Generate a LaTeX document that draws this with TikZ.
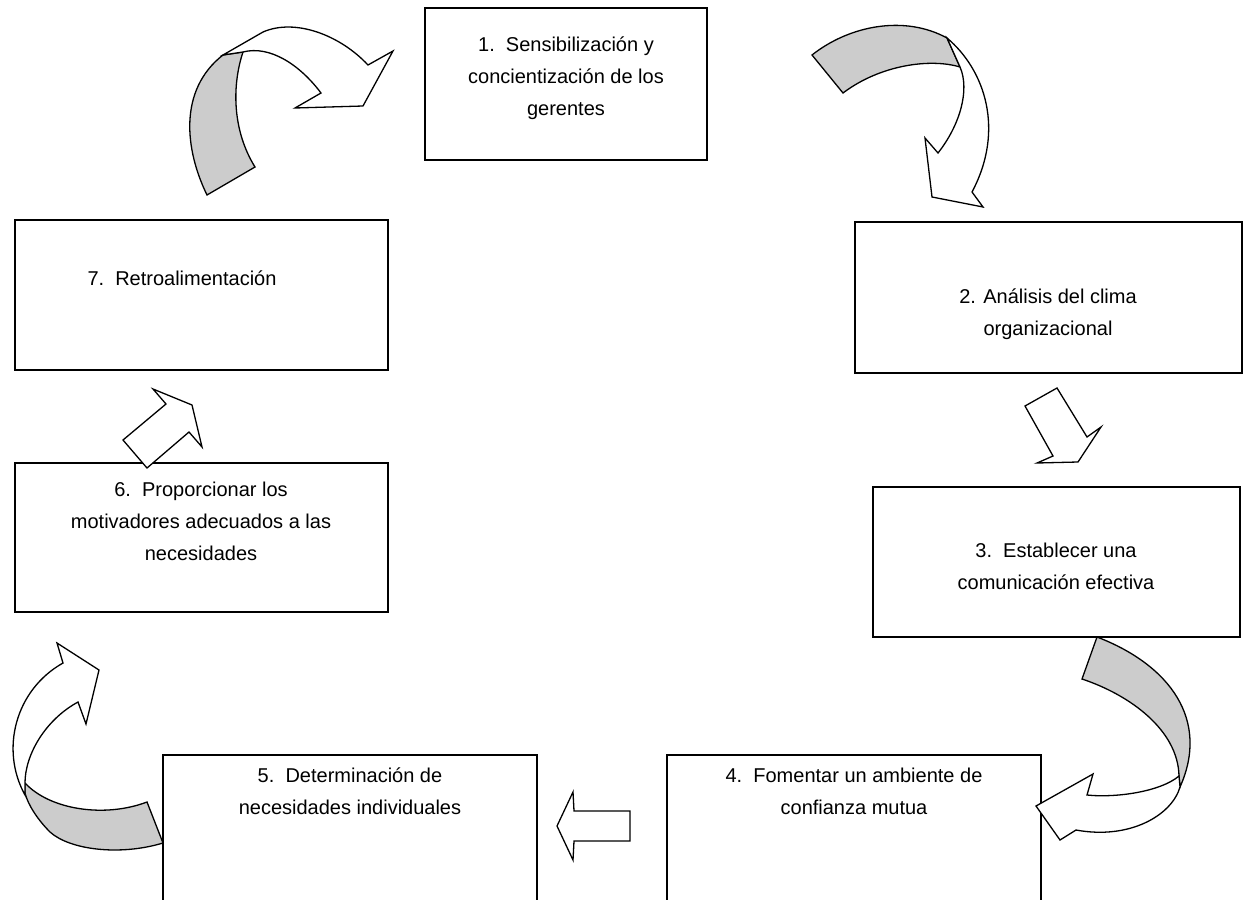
\documentclass[tikz,border=0pt]{standalone}
\usepackage{fontspec}
\setmainfont{Liberation Sans}
\definecolor{band}{RGB}{204,204,204}
\begin{document}
\begin{tikzpicture}[x=1pt,y=-1pt,
  box/.style={draw, line width=1.4pt, inner sep=0pt},
  lbl/.style={inner sep=0pt, align=center, font=\fontsize{20}{32}\selectfont, anchor=north},
  shp/.style={draw, line width=1.3pt, line join=miter}]
\useasboundingbox (0,0) rectangle (1249,899);
\clip (0,0) rectangle (1249,899);

% process boxes
\node[box, minimum width=282pt, minimum height=152pt] (b1) at (566,84) {};
\node[box, minimum width=387pt, minimum height=151pt] (b2) at (1048.5,297.5) {};
\node[box, minimum width=367pt, minimum height=150pt] (b3) at (1056.5,562) {};
\node[box, minimum width=374pt, minimum height=160pt] (b4) at (854,835) {};
\node[box, minimum width=374pt, minimum height=160pt] (b5) at (350,835) {};
\node[box, minimum width=373pt, minimum height=149pt] (b6) at (201.5,537.5) {};
\node[box, minimum width=373pt, minimum height=150pt] (b7) at (201.5,295) {};

% box labels
\node[lbl] (t1) at (566,36) {\rule{0pt}{15pt}1.~~Sensibilización y\\concientización de los\\gerentes};
\node[lbl] (t2) at (1048,288) {\rule{0pt}{15pt}2. Análisis del clima\\organizacional};
\node[lbl] (t3) at (1056,542) {\rule{0pt}{15pt}3.~~Establecer una\\comunicación efectiva};
\node[lbl] (t4) at (854,767) {\rule{0pt}{15pt}4.~~Fomentar un ambiente de\\confianza mutua};
\node[lbl] (t5) at (350,767) {\rule{0pt}{15pt}5.~~Determinación de\\necesidades individuales};
\node[lbl] (t6) at (201,481) {\rule{0pt}{15pt}6.~~Proporcionar los\\motivadores adecuados a las\\necesidades};
\node[lbl] (t7) at (182,270) {\rule{0pt}{15pt}7.~~Retroalimentación};

% curved arrow 7 -> 1
\draw[shp, fill=band] (207,195) .. controls (185,150) and (178,90) .. (223,55) -- (243,52)
  .. controls (232,85) and (232,130) .. (255,167) -- cycle;
\draw[shp, fill=white] (223,55) -- (263,32) .. controls (295,18) and (340,35) .. (368,65)
  -- (393,51) -- (363,106) -- (295,108) -- (321,93)
  .. controls (300,65) and (270,45) .. (243,52) -- cycle;

% curved arrow 1 -> 2
\draw[shp, fill=band] (812,55) -- (843,93) .. controls (880,65) and (930,58) .. (960,67)
  -- (947,38) .. controls (905,15) and (850,25) .. (812,55) -- cycle;
\draw[shp, fill=white] (947,38) .. controls (985,70) and (1005,130) .. (972,192)
  -- (983,207) -- (932,197) -- (925,138) -- (938,153)
  .. controls (960,125) and (970,90) .. (960,67) -- cycle;

% straight arrow 2 -> 3
\draw[shp, fill=white] (1025,406) -- (1057,388) -- (1087,437) -- (1101,427)
  -- (1078,462) -- (1037,463) -- (1053,456) -- cycle;

% curved arrow 3 -> 4
\draw[shp, fill=band] (1097,637) .. controls (1170,665) and (1210,720) .. (1180,787)
  -- (1179,776) .. controls (1178,730) and (1130,695) .. (1082,679) -- cycle;
\draw[shp, fill=white] (1179,776) .. controls (1160,792) and (1115,798) .. (1087,795)
  -- (1093,774) -- (1036,806) -- (1060,840) -- (1076,830)
  .. controls (1130,840) and (1172,815) .. (1180,787) -- cycle;

% straight arrow 4 -> 5
\draw[shp, fill=white] (630,811) -- (574,811) -- (573,792) -- (557,826)
  -- (573,860) -- (574,841) -- (630,841) -- cycle;

% curved arrow 5 -> 6
\draw[shp, fill=band] (25,783) .. controls (50,810) and (105,818) .. (147,802) -- (163,843)
  .. controls (120,856) and (70,850) .. (50,832) .. controls (38,820) and (28,805) .. (25,793) -- cycle;
\draw[shp, fill=white] (25,795) .. controls (0,750) and (15,690) .. (63,663)
  -- (57,643) -- (99,670) -- (86,724) -- (78,702)
  .. controls (45,720) and (25,755) .. (25,783) -- cycle;

% straight arrow 6 -> 7
\draw[shp, fill=white] (123,440) -- (166,404) -- (153,389) -- (192,405)
  -- (202,447) -- (189,432) -- (147,468) -- cycle;
\end{tikzpicture}
\end{document}
